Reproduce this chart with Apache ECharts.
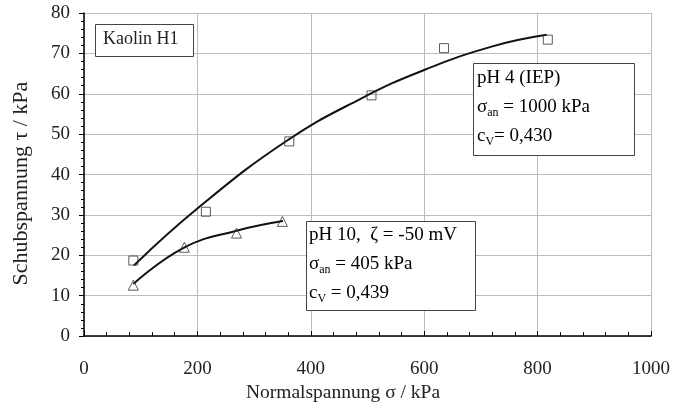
<!DOCTYPE html>
<html><head><meta charset="utf-8">
<script src="https://cdn.jsdelivr.net/npm/echarts@6/dist/echarts.min.js"></script>
<style>html,body{margin:0;padding:0;background:#fff}#c{width:685px;height:408px}</style>
</head><body><div id="c"></div>
<script>
// Data
var squarePoints = [[87,18.7],[215,30.8],[362,48.2],[507,59.6],[635,71.3],[818,73.4]];
var trianglePoints = [[87,12.6],[177,22.0],[269,25.5],[350,28.4]];
var squareCurve = [[88,17.5],[200,31.6],[357,48.3],[487,58.7],[600,65.9],[722,71.8],[816,74.6]];
var triangleCurve = [[87,12.9],[175,21.8],[269,26.1],[351,28.5]];
var xTicks = [0,200,400,600,800,1000];
var yTicks = [0,10,20,30,40,50,60,70,80];

var F = 'Liberation Serif, Times New Roman, serif';
var chart = echarts.init(document.getElementById('c'), null, {renderer:'canvas'});
var rich = {
  n:{fontFamily:F,fontSize:19,color:'#222',lineHeight:29},
  s:{fontFamily:F,fontSize:12,color:'#222',lineHeight:29,padding:[10,0,0,0]}
};
chart.setOption({
  animation:false,
  backgroundColor:'#fff',
  grid:{left:84,right:34,top:13,bottom:70},
  xAxis:{type:'value',min:0,max:1000,interval:200,
    name:'Normalspannung σ / kPa',nameLocation:'middle',nameGap:45,
    nameTextStyle:{fontFamily:F,fontSize:19.5,color:'#222',padding:[0,49,0,0]},
    axisLine:{lineStyle:{color:'#000',width:1.5}},
    axisTick:{inside:true,length:5,lineStyle:{color:'#000'}},
    minorTick:{show:true,splitNumber:5,length:4,lineStyle:{color:'#000'}},
    splitLine:{show:true,lineStyle:{color:'#bdbdbd',width:1}},
    axisLabel:{fontFamily:F,fontSize:19,color:'#222',margin:23,formatter:function(v){return xTicks.indexOf(v)>=0?String(v):'';}}
  },
  yAxis:{type:'value',min:0,max:80,interval:10,
    name:'Schubspannung τ / kPa',nameLocation:'middle',nameGap:52,nameRotate:90,
    nameTextStyle:{fontFamily:F,fontSize:22,color:'#222',padding:[0,18,0,0]},
    axisLine:{show:true,lineStyle:{color:'#000',width:1.5}},
    axisTick:{show:true,inside:false,length:5,lineStyle:{color:'#000'}},
    minorTick:{show:true,splitNumber:5,length:3,lineStyle:{color:'#000'}},
    splitLine:{show:true,lineStyle:{color:'#bdbdbd',width:1}},
    axisLabel:{fontFamily:F,fontSize:19,color:'#222',margin:14,formatter:function(v){return yTicks.indexOf(v)>=0?String(v):'';}}
  },
  series:[
    {type:'line',data:squareCurve,smooth:0.45,showSymbol:false,symbol:'none',lineStyle:{color:'#111',width:2},z:3},
    {type:'line',data:triangleCurve,smooth:0.45,showSymbol:false,symbol:'none',lineStyle:{color:'#111',width:2},z:3},
    {type:'scatter',data:squarePoints,symbol:'rect',symbolSize:9,itemStyle:{color:'rgba(255,255,255,0)',borderColor:'#333',borderWidth:1},z:4},
    {type:'scatter',data:trianglePoints,symbol:'triangle',symbolSize:10,itemStyle:{color:'rgba(255,255,255,0)',borderColor:'#333',borderWidth:1},z:4}
  ],
  graphic:[
    {type:'rect',shape:{x:95.5,y:24.5,width:98,height:32},style:{fill:'#fff',stroke:'#444',lineWidth:1},z:10},
    {type:'text',x:103,y:30,style:{text:'Kaolin H1',font:'18px '+F,fill:'#222'},z:11},
    {type:'rect',shape:{x:473.5,y:63.5,width:161,height:92},style:{fill:'#fff',stroke:'#444',lineWidth:1},z:10},
    {type:'text',x:477,y:64,style:{text:'{n|pH 4 (IEP)}\n{n|σ}{s|an}{n| = 1000 kPa}\n{n|c}{s|V}{n|= 0,430}',rich:rich},z:11},
    {type:'rect',shape:{x:306.5,y:221.5,width:169,height:89},style:{fill:'#fff',stroke:'#444',lineWidth:1},z:10},
    {type:'text',x:309,y:221,style:{text:'{n|pH 10,  ζ = -50 mV}\n{n|σ}{s|an}{n| = 405 kPa}\n{n|c}{s|V}{n| = 0,439}',rich:rich},z:11}
  ]
});
</script></body></html>
